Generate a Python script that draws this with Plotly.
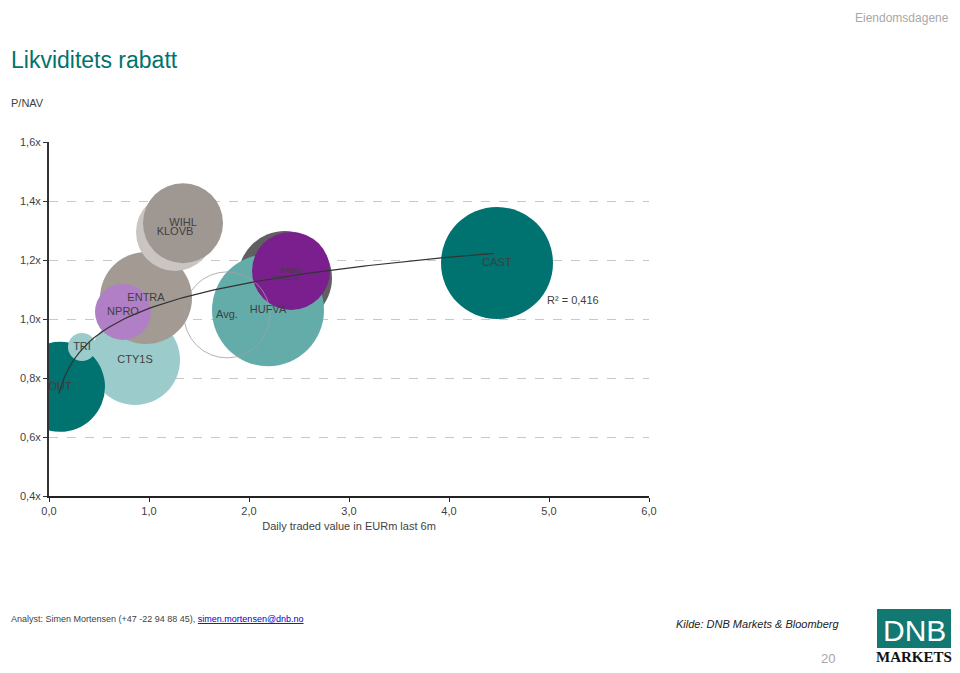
import math
import plotly.graph_objects as go

# ---- data ----
names = ["CTY1S", "OUT", "TRI", "ENTRA", "NPRO", "KLOVB", "WIHL", "WALLB", "HUFVA", "FABG", "Avg.", "CAST"]
traded_value = [0.86, 0.11, 0.33, 0.97, 0.74, 1.26, 1.34, 2.36, 2.19, 2.42, 1.78, 4.48]
p_nav = [0.861, 0.77, 0.905, 1.071, 1.024, 1.295, 1.325, 1.139, 1.03, 1.163, 1.014, 1.19]
bubble_size = [45, 45, 14, 46, 28, 39, 40, 47, 56, 39, 43, 56]
colors = ["#9ccbcb", "#007270", "#9ccbcb", "#a39a94", "#b17fc5", "#cbc5c1", "#9f9792",
          "#606060", "#64acaa", "#7b1f8f", "rgba(0,0,0,0)", "#007270"]
label_sizes = [11, 11, 11, 11, 11, 11, 11, 8, 11, 8, 11, 11]

# log trendline: y = a*ln(x) + b
trend_a = 0.125
trend_b = 1.036
trend_x = [0.1 + i * 0.05 for i in range(88)]
r_squared = "R² = 0,416"

x_tickvals = [0, 1, 2, 3, 4, 5, 6]
x_ticktext = ["0,0", "1,0", "2,0", "3,0", "4,0", "5,0", "6,0"]
y_tickvals = [0.4, 0.6, 0.8, 1.0, 1.2, 1.4, 1.6]
y_ticktext = ["0,4x", "0,6x", "0,8x", "1,0x", "1,2x", "1,4x", "1,6x"]

FONT = "Liberation Sans, Arial, sans-serif"

fig = go.Figure()
for i, n in enumerate(names):
    is_avg = n == "Avg."
    fig.add_trace(go.Scatter(
        x=[traded_value[i]], y=[p_nav[i]], mode="markers",
        marker=dict(size=[bubble_size[i]], sizemode="diameter", sizeref=0.5,
                    color=colors[i], opacity=1,
                    line=dict(width=0.8 if is_avg else 0, color="#a0a0a0")),
        hoverinfo="skip", showlegend=False))

fig.add_trace(go.Scatter(
    x=trend_x, y=[trend_a * math.log(v) + trend_b for v in trend_x],
    mode="lines", line=dict(color="#333333", width=1.2),
    hoverinfo="skip", showlegend=False))

fig.add_trace(go.Scatter(
    x=traded_value, y=p_nav, mode="text", text=names,
    textfont=dict(family=FONT, size=label_sizes, color="#3f3f3f"),
    textposition="middle center", hoverinfo="skip", showlegend=False))

# page body has an 8px margin on every side: figure occupies page px 8..952 x 8..665
OFF = 8
W, H = 960 - 2 * OFF, 673 - 2 * OFF
L, T = 49 - OFF, 142 - OFF
R = W - (649 - OFF)
B = H - (496 - OFF)
pw, ph = W - L - R, H - T - B


def px(x):
    return (x - OFF - L) / pw


def py(y):
    return (H - B - (y - OFF)) / ph


fig.update_layout(
    width=W, height=H, margin=dict(l=L, r=R, t=T, b=B),
    paper_bgcolor="white", plot_bgcolor="white",
    font=dict(family=FONT, size=11, color="#3f3f3f"),
    xaxis=dict(range=[0, 6], tickvals=x_tickvals, ticktext=x_ticktext,
               showgrid=False, zeroline=False, showline=True, linecolor="#222222",
               linewidth=1.5, ticks="outside", ticklen=4, tickcolor="#222222",
               tickfont=dict(size=11, color="#3f3f3f"),
               title=dict(text="Daily traded value in EURm last 6m", standoff=6,
                          font=dict(size=11, color="#3f3f3f"))),
    yaxis=dict(range=[0.4, 1.6], tickvals=y_tickvals, ticktext=y_ticktext,
               showgrid=True, gridcolor="#c8c8c8", griddash="dash", gridwidth=1,
               zeroline=False, showline=True, linecolor="#333333", linewidth=2,
               ticks="outside", ticklen=4, tickcolor="#333333",
               tickfont=dict(size=11, color="#3f3f3f")),
)

ann = [
    dict(text="Likviditets rabatt", x=px(9), y=py(60), xanchor="left", yanchor="middle",
         font=dict(size=23, color="#00736f", family=FONT)),
    dict(text="P/NAV", x=px(9), y=py(103), xanchor="left", yanchor="middle",
         font=dict(size=11, color="#3f3f3f", family=FONT)),
    dict(text="Eiendomsdagene", x=px(951), y=py(9), xanchor="right", yanchor="top",
         font=dict(size=12, color="#a8a8a8", family=FONT)),
    dict(text=r_squared, x=px(545), y=py(300), xanchor="left", yanchor="middle",
         font=dict(size=11, color="#3f3f3f", family=FONT)),
    dict(text="Analyst: Simen Mortensen (+47 -22 94 88 45), "
              "<a href='mailto:simen.mortensen@dnb.no' style='color:#0000cc'><u>simen.mortensen@dnb.no</u></a>",
         x=px(9), y=py(619), xanchor="left", yanchor="middle",
         font=dict(size=9, color="#3f3f3f", family=FONT)),
    dict(text="<i>Kilde: DNB Markets &amp; Bloomberg</i>", x=px(841), y=py(624),
         xanchor="right", yanchor="middle", font=dict(size=11, color="#222222", family=FONT)),
    dict(text="20", x=px(837), y=py(658), xanchor="right", yanchor="middle",
         font=dict(size=13, color="#a8a8a8", family=FONT)),
    dict(text="DNB", x=px(914), y=py(630), xanchor="center", yanchor="middle",
         font=dict(size=30, color="white", family=FONT)),
    dict(text="<b>MARKETS</b>", x=px(914), y=py(657), xanchor="center", yanchor="middle",
         font=dict(size=15, color="#111111", family="Liberation Serif, serif")),
]
for a in ann:
    a.update(xref="paper", yref="paper", showarrow=False)
fig.update_layout(annotations=ann)

fig.update_layout(shapes=[
    dict(type="rect", xref="paper", yref="paper", x0=px(877), x1=px(951), y0=py(648), y1=py(609),
         fillcolor="#127872", line=dict(width=0), layer="below"),
])

fig.write_html("out.html")
